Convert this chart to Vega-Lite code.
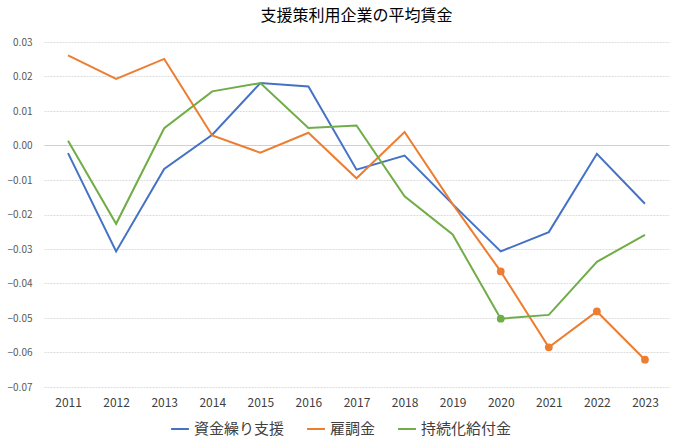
{
  "$schema": "https://vega.github.io/schema/vega-lite/v6.json",
  "autosize": "none",
  "width": 625,
  "height": 345,
  "padding": {"left": 44, "top": 42, "right": 11, "bottom": 57},
  "background": "white",
  "title": {
    "text": "支援策利用企業の平均賃金",
    "font": "Noto Sans CJK JP",
    "fontSize": 16,
    "fontWeight": "normal",
    "color": "#000000",
    "anchor": "middle",
    "offset": 13
  },
  "config": {
    "view": {"stroke": null},
    "font": "Noto Sans CJK JP"
  },
  "data": {
    "values": [
      {"year": "2011", "series": "資金繰り支援", "value": -0.0022},
      {"year": "2012", "series": "資金繰り支援", "value": -0.0307},
      {"year": "2013", "series": "資金繰り支援", "value": -0.0068},
      {"year": "2014", "series": "資金繰り支援", "value": 0.0031},
      {"year": "2015", "series": "資金繰り支援", "value": 0.0181},
      {"year": "2016", "series": "資金繰り支援", "value": 0.0171},
      {"year": "2017", "series": "資金繰り支援", "value": -0.0070},
      {"year": "2018", "series": "資金繰り支援", "value": -0.0029},
      {"year": "2019", "series": "資金繰り支援", "value": -0.0170},
      {"year": "2020", "series": "資金繰り支援", "value": -0.0307},
      {"year": "2021", "series": "資金繰り支援", "value": -0.0251},
      {"year": "2022", "series": "資金繰り支援", "value": -0.0024},
      {"year": "2023", "series": "資金繰り支援", "value": -0.0169},
      {"year": "2011", "series": "雇調金", "value": 0.0261},
      {"year": "2012", "series": "雇調金", "value": 0.0193},
      {"year": "2013", "series": "雇調金", "value": 0.0251},
      {"year": "2014", "series": "雇調金", "value": 0.0029},
      {"year": "2015", "series": "雇調金", "value": -0.0021},
      {"year": "2016", "series": "雇調金", "value": 0.0037},
      {"year": "2017", "series": "雇調金", "value": -0.0095},
      {"year": "2018", "series": "雇調金", "value": 0.0039},
      {"year": "2019", "series": "雇調金", "value": -0.0170},
      {"year": "2020", "series": "雇調金", "value": -0.0365},
      {"year": "2021", "series": "雇調金", "value": -0.0585},
      {"year": "2022", "series": "雇調金", "value": -0.0481},
      {"year": "2023", "series": "雇調金", "value": -0.0621},
      {"year": "2011", "series": "持続化給付金", "value": 0.0014},
      {"year": "2012", "series": "持続化給付金", "value": -0.0227},
      {"year": "2013", "series": "持続化給付金", "value": 0.0050},
      {"year": "2014", "series": "持続化給付金", "value": 0.0157},
      {"year": "2015", "series": "持続化給付金", "value": 0.0181},
      {"year": "2016", "series": "持続化給付金", "value": 0.0051},
      {"year": "2017", "series": "持続化給付金", "value": 0.0058},
      {"year": "2018", "series": "持続化給付金", "value": -0.0147},
      {"year": "2019", "series": "持続化給付金", "value": -0.0258},
      {"year": "2020", "series": "持続化給付金", "value": -0.0502},
      {"year": "2021", "series": "持続化給付金", "value": -0.0491},
      {"year": "2022", "series": "持続化給付金", "value": -0.0337},
      {"year": "2023", "series": "持続化給付金", "value": -0.0259}
    ]
  },
  "encoding": {
    "x": {
      "field": "year",
      "type": "ordinal",
      "scale": {"type": "point", "padding": 0.5},
      "axis": {
        "title": null,
        "labelAngle": 0,
        "domain": false,
        "ticks": false,
        "grid": false,
        "labelFontSize": 12,
        "labelColor": "#404040",
        "labelPadding": 10,
        "labelFont": "Noto Sans CJK JP"
      }
    },
    "y": {
      "field": "value",
      "type": "quantitative",
      "scale": {"domain": [-0.07, 0.03], "nice": false, "zero": false},
      "axis": {
        "title": null,
        "values": [-0.07, -0.06, -0.05, -0.04, -0.03, -0.02, -0.01, 0, 0.01, 0.02, 0.03],
        "format": ".2f",
        "domain": false,
        "ticks": false,
        "labelFontSize": 10,
        "labelColor": "#595959",
        "labelPadding": 12,
        "labelFont": "Noto Sans CJK JP",
        "grid": true,
        "gridColor": {"condition": {"test": "datum.value === 0", "value": "#d0d0d0"}, "value": "#dcdcdc"},
        "gridDash": {"condition": {"test": "datum.value === 0", "value": []}, "value": [2, 1]},
        "gridWidth": 1
      }
    },
    "color": {
      "field": "series",
      "type": "nominal",
      "scale": {
        "domain": ["資金繰り支援", "雇調金", "持続化給付金"],
        "range": ["#4472C4", "#ED7D31", "#70AD47"]
      },
      "legend": {
        "title": null,
        "orient": "none",
        "legendX": 126,
        "legendY": 377,
        "direction": "horizontal",
        "symbolType": "stroke",
        "symbolSize": 320,
        "symbolStrokeWidth": 2,
        "labelFontSize": 15,
        "labelColor": "#404040",
        "labelFont": "Noto Sans CJK JP",
        "columnPadding": 18,
        "labelOffset": 4
      }
    }
  },
  "layer": [
    {
      "mark": {"type": "line", "strokeWidth": 2}
    },
    {
      "transform": [
        {"filter": "(datum.series === '雇調金' && datum.year >= '2020') || (datum.series === '持続化給付金' && datum.year === '2020')"}
      ],
      "mark": {"type": "point", "filled": true, "size": 60, "opacity": 1}
    }
  ]
}
